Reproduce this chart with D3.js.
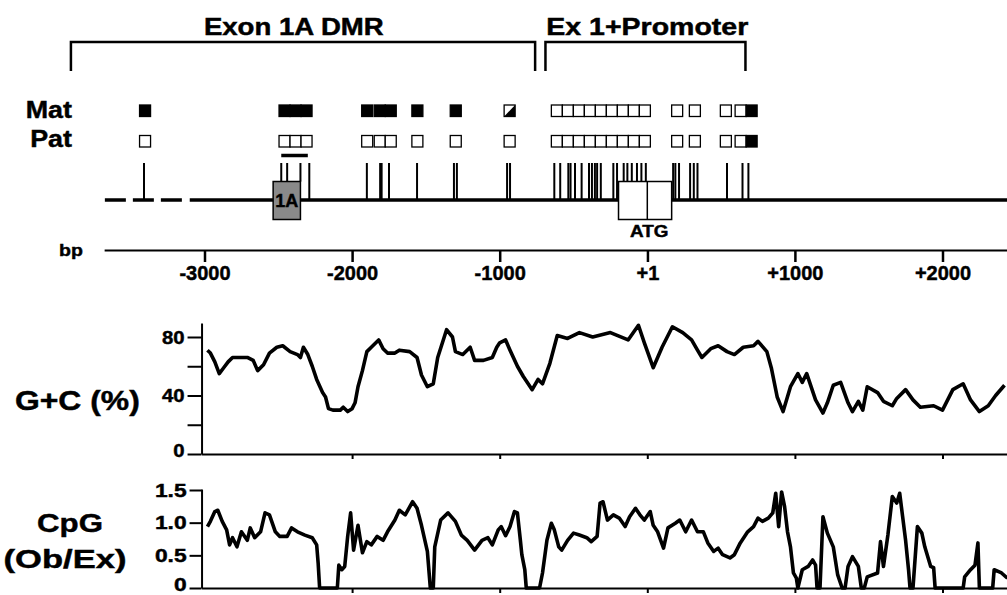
<!DOCTYPE html>
<html>
<head>
<meta charset="utf-8">
<title>Exon 1A DMR - G+C and CpG profile</title>
<script src="https://cdn.jsdelivr.net/npm/d3@7"></script>
<style>
  body { margin: 0; background: #fff; }
  text { font-family: "Liberation Sans", Arial, Helvetica, sans-serif; font-weight: bold; fill: #000; stroke: #000; stroke-width: 0.45px; }
</style>
</head>
<body>
<div id="chart"></div>
<script>
// ---------- data (positions in bp relative to ATG = +1) ----------
var regions = [
  { name: "Exon 1A DMR",   from: -3905, to: -760, labelAt: -2395 },
  { name: "Ex 1+Promoter", from: -690,  to: 665,  labelAt: 0 }
];

var bpTicks      = [-3000, -2000, -1000, 1, 1000, 2000];
var bpTickLabels = ["-3000", "-2000", "-1000", "+1", "+1000", "+2000"];
var plotTicks    = [-2000, -1000, 0, 1000, 2000];

// CpG sites drawn as vertical strokes on the map
var cpgSites = [-3410, -2480, -2440, -2350, -2290, -1900, -1810, -1800, -1750, -1560,
  -1310, -1290, -950, -930, -630, -590, -535, -520, -490, -445, -395, -375, -355, -340,
  -315, -230, -205, -160, -135, -105, -70, -40, -10, 175, 190, 215, 290, 315, 340,
  540, 645, 685];

// methylation squares: group start (bp) and state per CpG (1 = methylated, 0 = unmethylated, 0.5 = partial)
var groupStart = [-3440, -2495, -1935, -1850, -1595, -1335, -970, -650, 165, 285, 495, 595];
var matStates  = [[1], [1, 1, 1], [1], [1, 1], [1], [1], [0.5],
  [0, 0, 0, 0, 0, 0, 0, 0, 0], [0], [0], [0], [0, 1]];
var patStates  = [[0], [0, 0, 0], [0], [0, 0], [0], [0], [0],
  [0, 0, 0, 0, 0, 0, 0, 0, 0], [0], [0], [0], [0, 1]];

var exons = [
  { name: "1A",  from: -2535, to: -2350, fill: "#8a8a8a", split: null },
  { name: "ATG", from: -195,  to: 165,   fill: "#fff",    split: 0 }
];
var exon1aBar   = [-2480, -2300];
var dashedSpan  = [-3675, -3140];
var solidSpan   = [-3100, 2440];
var bpAxisSpan  = [-3680, 2445];
var plotSpan    = [-3020, 2445];

// G+C content (%), [bp, value]
var gcProfile = [
  [-2980, 71], [-2960, 69], [-2930, 63], [-2900, 55], [-2870, 59], [-2840, 63], [-2810, 66],
  [-2760, 66], [-2710, 66], [-2670, 64], [-2640, 57], [-2600, 61], [-2560, 69], [-2510, 73],
  [-2470, 74], [-2420, 70], [-2370, 68], [-2350, 66], [-2330, 73], [-2300, 68], [-2270, 60],
  [-2240, 51], [-2200, 42], [-2180, 39], [-2160, 31], [-2130, 30], [-2080, 30], [-2060, 32],
  [-2030, 29], [-2000, 31], [-1980, 35], [-1960, 46], [-1930, 57], [-1900, 70], [-1870, 73],
  [-1820, 78], [-1790, 72], [-1760, 69], [-1710, 69], [-1680, 71], [-1610, 70], [-1560, 66],
  [-1530, 54], [-1490, 46], [-1450, 48], [-1420, 66], [-1360, 85], [-1320, 80], [-1300, 70],
  [-1250, 68], [-1200, 73], [-1170, 64], [-1110, 64], [-1050, 66], [-1020, 73], [-1000, 76],
  [-960, 78], [-930, 71], [-880, 60], [-840, 53], [-780, 44], [-740, 51], [-710, 48],
  [-660, 62], [-610, 81], [-540, 79], [-460, 83], [-370, 80], [-250, 83], [-130, 78],
  [-60, 88], [-20, 76], [40, 59], [100, 73], [170, 87], [240, 83], [300, 78], [340, 71],
  [370, 66], [430, 72], [480, 74], [540, 70], [590, 68], [650, 73], [720, 74], [750, 77],
  [810, 70], [840, 59], [880, 39], [920, 29], [970, 46], [1020, 55], [1050, 49], [1080, 55],
  [1140, 37], [1190, 28], [1220, 35], [1260, 47], [1310, 49], [1360, 35], [1390, 29],
  [1430, 36], [1460, 30], [1490, 46], [1560, 42], [1600, 36], [1660, 33], [1690, 38],
  [1750, 44], [1800, 37], [1850, 32], [1940, 33], [2000, 30], [2070, 44], [2140, 48],
  [2190, 37], [2250, 29], [2310, 33], [2360, 40], [2420, 47]
];

// CpG observed / expected, [bp, value]
var cpgProfile = [
  [-2980, 0.94], [-2960, 1.02], [-2930, 1.17], [-2910, 1.19], [-2880, 1.02], [-2850, 0.89],
  [-2830, 0.66], [-2810, 0.77], [-2780, 0.63], [-2750, 0.86], [-2710, 0.73], [-2690, 0.92],
  [-2660, 0.77], [-2620, 0.86], [-2590, 1.15], [-2560, 1.12], [-2520, 0.86], [-2490, 0.79],
  [-2440, 0.79], [-2410, 0.92], [-2370, 0.86], [-2320, 0.81], [-2270, 0.77], [-2240, 0.66],
  [-2230, 0.38], [-2220, 0], [-2100, 0], [-2090, 0.35], [-2070, 0.28], [-2050, 0.33],
  [-2030, 0.79], [-2010, 1.15], [-1990, 0.58], [-1960, 0.96], [-1930, 0.54], [-1900, 0.71],
  [-1870, 0.66], [-1830, 0.79], [-1790, 0.73], [-1760, 0.86], [-1710, 1.04], [-1680, 1.19],
  [-1640, 1.12], [-1590, 1.32], [-1560, 1.22], [-1530, 0.96], [-1490, 0.56], [-1470, 0],
  [-1450, 0], [-1440, 0.63], [-1400, 1.04], [-1350, 1.15], [-1300, 1.02], [-1260, 0.81],
  [-1220, 0.73], [-1170, 0.58], [-1120, 0.73], [-1080, 0.77], [-1050, 0.66], [-1010, 0.89],
  [-990, 0.94], [-960, 0.80], [-930, 0.94], [-900, 1.17], [-880, 1.15], [-860, 0.73],
  [-850, 0.51], [-830, 0.28], [-820, 0], [-730, 0], [-710, 0.23], [-680, 0.73], [-650, 0.99],
  [-630, 0.89], [-600, 0.63], [-580, 0.58], [-540, 0.73], [-500, 0.84], [-460, 0.81],
  [-410, 0.77], [-380, 0.71], [-340, 0.79], [-320, 1.30], [-300, 1.32], [-270, 1.04],
  [-230, 1.12], [-190, 1.07], [-150, 0.94], [-120, 1.09], [-80, 1.22], [-50, 1.12],
  [-20, 1.04], [20, 1.17], [40, 0.96], [70, 0.86], [110, 0.61], [140, 0.92], [190, 0.99],
  [220, 1.04], [260, 0.86], [300, 1.04], [340, 0.86], [380, 0.86], [410, 0.69], [450, 0.56],
  [480, 0.61], [510, 0.51], [560, 0.46], [590, 0.51], [630, 0.69], [680, 0.86], [720, 0.94],
  [750, 1.07], [780, 1.02], [820, 1.07], [850, 1.15], [870, 1.45], [890, 0.94], [910, 1.47],
  [930, 1.25], [950, 0.86], [970, 0.63], [990, 0.23], [1010, 0.15], [1020, 0], [1050, 0.28],
  [1090, 0.33], [1120, 0.43], [1140, 0.35], [1150, 0], [1170, 0], [1190, 1.09], [1220, 0.84],
  [1260, 0.63], [1290, 0.20], [1320, 0], [1340, 0], [1360, 0.33], [1390, 0.48], [1430, 0.33],
  [1450, 0], [1470, 0], [1490, 0.17], [1560, 0.23], [1580, 0.71], [1600, 0.33], [1630, 0.81],
  [1660, 1.40], [1690, 1.30], [1710, 1.45], [1750, 0.73], [1770, 0.28], [1780, 0], [1800, 0],
  [1830, 0.94], [1860, 0.84], [1880, 0.63], [1920, 0.33], [1940, 0.31], [1950, 0], [2140, 0],
  [2150, 0.17], [2190, 0.28], [2220, 0.35], [2240, 0.69], [2250, 0], [2340, 0], [2350, 0.28],
  [2400, 0.23], [2440, 0.15]
];

// ---------- layout ----------
var width = 1007, height = 595;
var bracketTop = 42, bracketBottom = 71;
var matY = 105, patY = 135.5, sqW = 11, sqH = 11.5;
var siteTop = 163, lineY = 200, boxTop = 181.5, boxBottom = 219.5;
var axisY = 250;

var svg = d3.select("#chart").append("svg")
  .attr("width", width)
  .attr("height", height);

var x = d3.scaleLinear().domain([-3000, 2000]).range([204.5, 942.5]);
var yGC = d3.scaleLinear().domain([0, 80]).range([454, 337]);
var yCpG = d3.scaleLinear().domain([0, 1.5]).range([588, 490]);

// text stretched horizontally like the scanned figure
function label(px, py, str, size, sx, anchor) {
  return svg.append("text")
    .attr("transform", "translate(" + px + "," + py + ") scale(" + sx + ",1)")
    .attr("text-anchor", anchor || "middle")
    .style("font-size", size + "px")
    .text(str);
}

// ---------- region brackets ----------
regions.forEach(function (r, i) {
  svg.append("path")
    .attr("d", "M" + x(r.from) + "," + bracketBottom + "V" + bracketTop + "H" + x(r.to) + "V" + bracketBottom)
    .attr("fill", "none")
    .attr("stroke", "#000")
    .attr("stroke-width", 2.5);
  label(x(r.labelAt), 35, r.name, 23, i === 0 ? 1.2 : 1.24);
});

// ---------- Mat / Pat squares ----------
label(72, 118, "Mat", 24, 1.12, "end");
label(72, 147, "Pat", 24, 1.12, "end");

function drawRow(states, top) {
  states.forEach(function (grp, i) {
    grp.forEach(function (s, j) {
      var x0 = x(groupStart[i]) + j * sqW;
      svg.append("rect")
        .attr("x", x0).attr("y", top)
        .attr("width", sqW).attr("height", sqH)
        .attr("fill", s === 1 ? "#000" : "#fff")
        .attr("stroke", "#000")
        .attr("stroke-width", 1.3);
      if (s === 0.5) {
        svg.append("path")
          .attr("d", "M" + (x0 + sqW) + "," + top + "V" + (top + sqH) + "H" + x0 + "Z")
          .attr("fill", "#000");
      }
    });
  });
}
drawRow(matStates, matY);
drawRow(patStates, patY);

svg.append("line")
  .attr("x1", x(exon1aBar[0])).attr("x2", x(exon1aBar[1]))
  .attr("y1", 155.5).attr("y2", 155.5)
  .attr("stroke", "#000")
  .attr("stroke-width", 3.5);

// ---------- gene map ----------
svg.append("line")
  .attr("x1", x(dashedSpan[0])).attr("x2", x(dashedSpan[1]))
  .attr("y1", lineY).attr("y2", lineY)
  .attr("stroke", "#000")
  .attr("stroke-width", 3.5)
  .attr("stroke-dasharray", "21,7");

svg.append("line")
  .attr("x1", x(solidSpan[0])).attr("x2", x(solidSpan[1]))
  .attr("y1", lineY).attr("y2", lineY)
  .attr("stroke", "#000")
  .attr("stroke-width", 3.5);

svg.selectAll(".site")
  .data(cpgSites)
  .enter().append("line")
  .attr("class", "site")
  .attr("x1", function (d) { return x(d); })
  .attr("x2", function (d) { return x(d); })
  .attr("y1", siteTop)
  .attr("y2", function (d) {
    var inBox = exons.some(function (e) { return d >= e.from && d <= e.to; });
    return inBox ? boxTop : lineY;
  })
  .attr("stroke", "#000")
  .attr("stroke-width", 2);

exons.forEach(function (e) {
  svg.append("rect")
    .attr("x", x(e.from)).attr("y", boxTop)
    .attr("width", x(e.to) - x(e.from))
    .attr("height", boxBottom - boxTop)
    .attr("fill", e.fill)
    .attr("stroke", "#000")
    .attr("stroke-width", 1.5);
  if (e.split !== null) {
    svg.append("line")
      .attr("x1", x(e.split)).attr("x2", x(e.split))
      .attr("y1", boxTop).attr("y2", boxBottom)
      .attr("stroke", "#000")
      .attr("stroke-width", 1.5);
    label(x(e.split) + 2, 237, e.name, 16, 1.18);
  } else {
    label((x(e.from) + x(e.to)) / 2, 207, e.name, 18, 1.0);
  }
});

// ---------- bp axis ----------
label(59, 256, "bp", 17, 1.15, "start");

var xFull = x.copy().domain(bpAxisSpan).range(bpAxisSpan.map(x));
var bpAxis = svg.append("g")
  .attr("transform", "translate(0," + axisY + ")")
  .call(d3.axisBottom(xFull)
    .tickValues(bpTicks)
    .tickFormat(function (d, i) { return bpTickLabels[i]; })
    .tickSize(12)
    .tickSizeOuter(0)
    .tickPadding(4));
bpAxis.select(".domain").attr("stroke-width", 2);
bpAxis.selectAll(".tick line").attr("stroke-width", 2.5);
bpAxis.selectAll(".tick text").style("font-size", "20px");

// ---------- profile plots ----------
var xPlot = x.copy().domain(plotSpan).range(plotSpan.map(x));

function drawPlot(y, axisTop, ticks, fmt, tickLen, data, sxLabels) {
  var x0 = x(plotSpan[0]);
  var yAxisScale = y.copy().domain([0, y.invert(axisTop)]).range([y(0), axisTop]);
  var ya = svg.append("g")
    .attr("transform", "translate(" + x0 + ",0)")
    .call(d3.axisLeft(yAxisScale)
      .tickValues(ticks)
      .tickFormat(fmt)
      .tickSize(tickLen)
      .tickSizeOuter(0)
      .tickPadding(3));
  ya.select(".domain").attr("stroke-width", 2);
  ya.selectAll(".tick line").attr("stroke-width", 2);
  ya.selectAll(".tick text")
    .style("font-size", "19px")
    .attr("x", -(tickLen + 3) / sxLabels)
    .attr("dy", function (d) { return d === 0 ? "0.15em" : "0.32em"; })
    .attr("transform", "scale(" + sxLabels + ",1)");

  var xa = svg.append("g")
    .attr("transform", "translate(0," + y(0) + ")")
    .call(d3.axisBottom(xPlot)
      .tickValues(plotTicks)
      .tickFormat("")
      .tickSize(5)
      .tickSizeOuter(0));
  xa.select(".domain").attr("stroke-width", 2);
  xa.selectAll(".tick line").attr("stroke-width", 2);

  svg.append("path")
    .datum(data)
    .attr("fill", "none")
    .attr("stroke", "#000")
    .attr("stroke-width", 3.6)
    .attr("stroke-linejoin", "round")
    .attr("d", d3.line()
      .x(function (d) { return x(d[0]); })
      .y(function (d) { return y(d[1]); }));
}

drawPlot(yGC, 323, [0, 20, 40, 60, 80],
  function (d) { return d % 40 === 0 ? d : ""; }, 14, gcProfile, 1.07);
label(15, 410, "G+C (%)", 27, 1.18, "start");

drawPlot(yCpG, 489, [0, 0.5, 1, 1.5],
  function (d) { return d === 0 ? "0" : d3.format(".1f")(d); }, 12, cpgProfile, 1.2);
label(70, 532, "CpG", 26, 1.2);
label(65, 568, "(Ob/Ex)", 26, 1.33);
</script>
</body>
</html>
